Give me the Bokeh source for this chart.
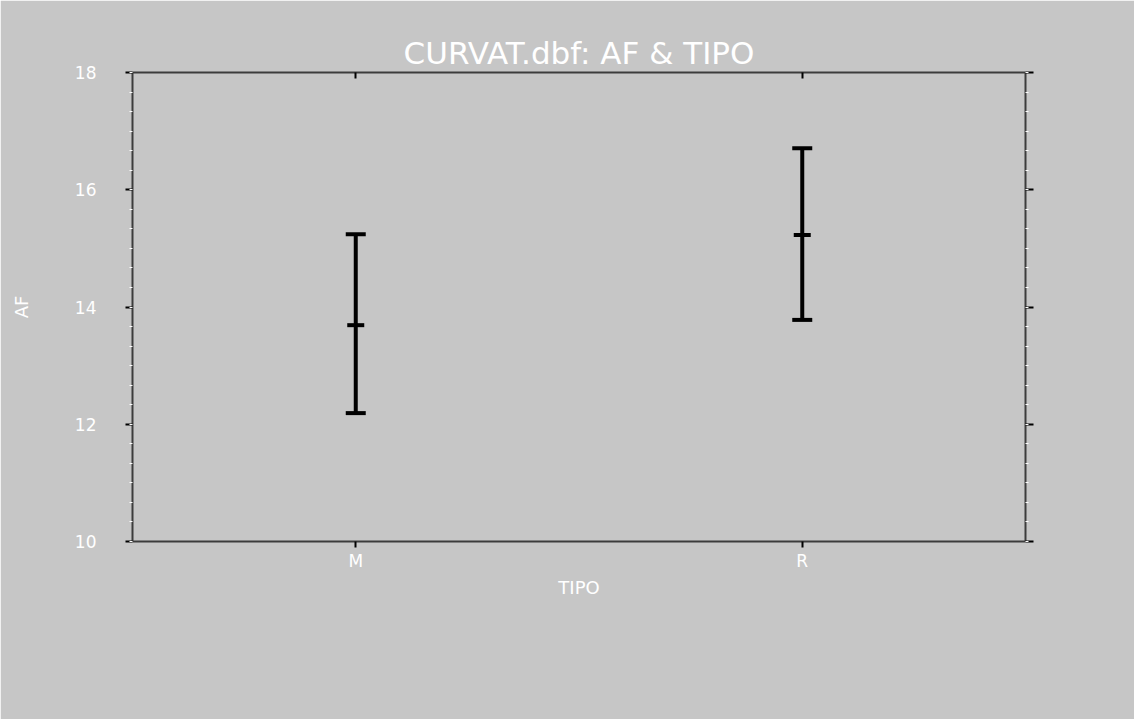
from bokeh.plotting import figure
from bokeh.models import (LinearAxis, CategoricalAxis, Range1d, FactorRange,
                          SingleIntervalTicker, ColumnDataSource, Title)
from bokeh.embed import file_html
from bokeh.resources import INLINE

# ---- data ----
categories = ["M", "R"]
means = [13.69, 15.23]
upper = [15.24, 16.71]
lower = [12.19, 13.78]
y_ticks_interval = 2
y_min, y_max = 10, 18

BG = "#c6c6c6"
AX = "#3c3c3c"
FONT = "DejaVu Sans"

src = ColumnDataSource(dict(cat=categories, mean=means, up=upper, lo=lower))

p = figure(width=1134, height=719, output_backend="svg", toolbar_location=None,
           x_range=FactorRange(factors=categories, range_padding=0),
           y_range=Range1d(y_min, y_max),
           x_axis_location=None, y_axis_location=None,
           min_border_left=132, min_border_right=109,
           min_border_top=72, min_border_bottom=178)
p.background_fill_color = BG
p.border_fill_color = BG
p.outline_line_color = None
p.xgrid.visible = False
p.ygrid.visible = False

ticker = SingleIntervalTicker(interval=y_ticks_interval, num_minor_ticks=6)

def style_common(ax):
    ax.axis_line_color = AX
    ax.axis_line_width = 2
    ax.major_tick_line_color = "black"
    ax.major_tick_line_width = 2
    ax.minor_tick_line_color = "white"
    ax.minor_tick_line_width = 1
    ax.major_label_text_color = "white"
    ax.major_label_text_font = FONT
    ax.major_label_text_font_size = "17px"
    ax.axis_label_text_color = "white"
    ax.axis_label_text_font = FONT
    ax.axis_label_text_font_size = "18px"
    ax.axis_label_text_font_style = "normal"

# left axis
left = LinearAxis(ticker=ticker, axis_label="AF")
style_common(left)
left.major_tick_out = 7
left.major_tick_in = 0
left.minor_tick_out = 3
left.minor_tick_in = 0
left.major_label_standoff = 29
left.axis_label_standoff = 40
p.add_layout(left, "left")

# right axis (ticks only)
right = LinearAxis(ticker=ticker)
style_common(right)
right.major_tick_out = 8
right.major_tick_in = 0
right.minor_tick_out = 3
right.minor_tick_in = 0
right.major_label_text_color = None
right.major_label_text_alpha = 0
right.major_label_standoff = 0
p.add_layout(right, "right")

# bottom axis
bottom = CategoricalAxis(axis_label="TIPO")
style_common(bottom)
bottom.major_tick_out = 6
bottom.major_tick_in = 0
bottom.major_label_standoff = 3
bottom.axis_label_standoff = 3
p.add_layout(bottom, "below")

# top axis (ticks only)
top = CategoricalAxis()
style_common(top)
top.major_tick_out = 0
top.major_tick_in = 6
top.major_label_text_color = None
top.major_label_text_alpha = 0
top.major_label_standoff = 0
p.add_layout(top, "above")

title = Title(text="CURVAT.dbf: AF & TIPO", align="center", text_color="white",
              text_font=FONT, text_font_size="31px", text_font_style="normal",
              standoff=4)
p.add_layout(title, "above")

# error bars
p.segment(x0="cat", y0="lo", x1="cat", y1="up", source=src,
          line_color="black", line_width=4)
p.scatter(x="cat", y="up", source=src, marker="dash", size=20,
          line_color="black", line_width=4)
p.scatter(x="cat", y="lo", source=src, marker="dash", size=20,
          line_color="black", line_width=4)
p.scatter(x="cat", y="mean", source=src, marker="dash", size=17,
          line_color="black", line_width=4)

open("out.html", "w").write(file_html(p, INLINE))
